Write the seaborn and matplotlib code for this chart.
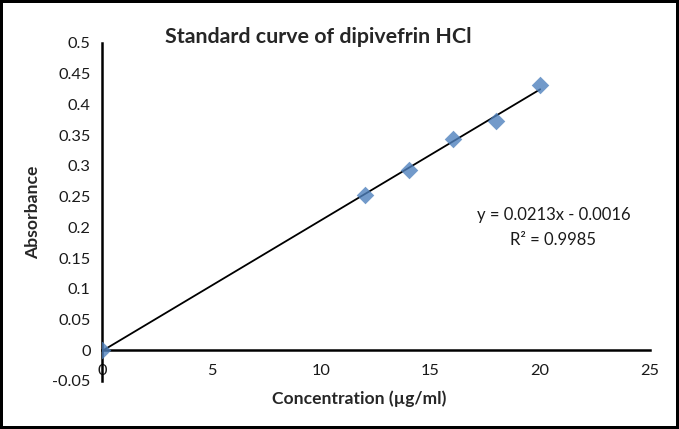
import numpy as np
import pandas as pd
import matplotlib
matplotlib.use("Agg")
import matplotlib.pyplot as plt
import seaborn as sns

# data
concentration = [0, 12, 14, 16, 18, 20]
absorbance = [0.0, 0.253, 0.293, 0.344, 0.373, 0.432]
x_ticks = [0, 5, 10, 15, 20, 25]
y_ticks = [-0.05, 0, 0.05, 0.1, 0.15, 0.2, 0.25, 0.3, 0.35, 0.4, 0.45, 0.5]
equation_text = "y = 0.0213x - 0.0016"
r2_text = "R² = 0.9985"

df = pd.DataFrame({"Concentration": concentration, "Absorbance": absorbance})

sns.set_style("white")
plt.rcParams["font.family"] = ["Lato", "DejaVu Sans"]
plt.rcParams["axes.unicode_minus"] = False

fig = plt.figure(figsize=(6.79, 4.29), dpi=100)
fig.patch.set_edgecolor("black")
fig.patch.set_linewidth(3)
ax = fig.add_axes([0.150, 0.112, 0.807, 0.788])

sns.regplot(data=df, x="Concentration", y="Absorbance", ax=ax, ci=None,
            marker="D", color="#4F81BD",
            scatter_kws={"s": 80, "color": "#4F81BD", "zorder": 3, "linewidths": 0},
            line_kws={"color": "black", "linewidth": 1.3, "zorder": 2})

ax.set_xlim(0, 25)
ax.set_ylim(-0.05, 0.5)
ax.set_xticks(x_ticks)
ax.set_yticks(y_ticks)
ax.set_xticklabels([f"{t:g}" for t in x_ticks])
ax.set_yticklabels([f"{t:g}" for t in y_ticks])

for s in ["top", "right"]:
    ax.spines[s].set_visible(False)
ax.spines["bottom"].set_position(("data", 0))
ax.spines["left"].set_linewidth(1.8)
ax.spines["bottom"].set_linewidth(1.8)
ax.spines["left"].set_color("black")
ax.spines["bottom"].set_color("black")
ax.spines["left"].set_bounds(-0.05, 0.5)

ax.tick_params(axis="both", direction="out", length=4, width=1.5, color="black",
               labelsize=11.8, labelcolor="#1a1a1a")
ax.tick_params(axis="x", pad=6)
ax.tick_params(axis="y", pad=4)

ax.set_xlabel("Concentration (µg/ml)", fontsize=12.6, fontweight="bold")
ax.xaxis.set_label_coords(0.469, -0.028)
ax.set_ylabel("Absorbance", fontsize=12.6, fontweight="bold", labelpad=8)
ax.text(0.395, 1.018, "Standard curve of dipivefrin HCl", transform=ax.transAxes,
        ha="center", va="center", fontsize=15.4, fontweight="bold")

ax.text(20.6, 0.22, equation_text, ha="center", va="center", fontsize=12, color="#1a1a1a")
ax.text(20.6, 0.179, r2_text, ha="center", va="center", fontsize=12, color="#1a1a1a")

fig.savefig("out.png", dpi=100, edgecolor=fig.get_edgecolor())
